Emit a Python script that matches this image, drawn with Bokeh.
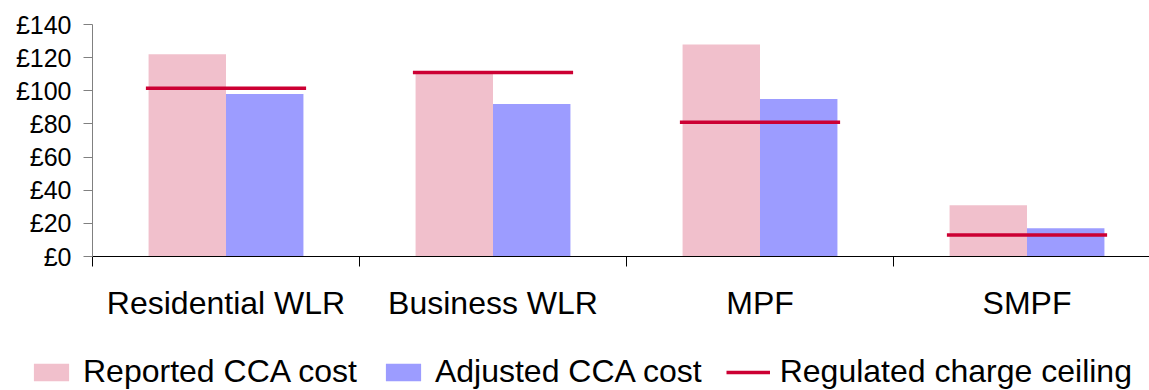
from bokeh.plotting import figure
from bokeh.layouts import column
from bokeh.models import (ColumnDataSource, FixedTicker, Range1d, Legend, LegendItem,
                          PrintfTickFormatter)
from bokeh.embed import file_html
from bokeh.resources import INLINE

categories = ["Residential WLR", "Business WLR", "MPF", "SMPF"]
reported = [122, 112, 128, 31]
adjusted = [98, 92, 95, 17]
ceiling = [101.5, 111, 81, 13]
y_ticks = [0, 20, 40, 60, 80, 100, 120, 140]
series_names = ["Reported CCA cost", "Adjusted CCA cost", "Regulated charge ceiling"]

PINK = "#F1C0CC"
BLUE = "#9C9CFF"
RED = "#CC0033"
FONT = "Liberation Sans"

centers = [i + 0.5 for i in range(len(categories))]
bar_w = 0.29
half_line = 0.3

src = ColumnDataSource(dict(
    cat=categories,
    xr=[c - bar_w / 2 for c in centers],
    xa=[c + bar_w / 2 for c in centers],
    x0=[c - half_line for c in centers],
    x1=[c + half_line for c in centers],
    reported=reported,
    adjusted=adjusted,
    ceiling=ceiling,
))

MAIN_H = 354
p = figure(width=1149, height=MAIN_H, output_backend="svg", toolbar_location=None,
           x_range=Range1d(0, 1057 / 267), y_range=Range1d(0, 140),
           min_border_left=92, min_border_right=0, min_border_top=24,
           min_border_bottom=MAIN_H - 256, outline_line_color=None)
p.xgrid.visible = False
p.ygrid.visible = False

p.vbar(x="xr", top="reported", width=bar_w, source=src, fill_color=PINK, line_color=None)
p.vbar(x="xa", top="adjusted", width=bar_w, source=src, fill_color=BLUE, line_color=None)
p.segment(x0="x0", x1="x1", y0="ceiling", y1="ceiling", source=src,
          line_color=RED, line_width=3.5)

# x axis
xa = p.xaxis[0]
xa.ticker = FixedTicker(ticks=centers, minor_ticks=list(range(len(categories))))
xa.major_label_overrides = {c: name for c, name in zip(centers, categories)}
xa.major_tick_line_color = None
xa.major_tick_out = 0
xa.major_tick_in = 0
xa.minor_tick_line_color = "black"
xa.minor_tick_out = 10
xa.minor_tick_in = 0
xa.axis_line_color = "black"
xa.major_label_standoff = 18
xa.major_label_text_font = FONT
xa.major_label_text_font_size = "32px"
xa.major_label_text_color = "black"

# y axis
ya = p.yaxis[0]
ya.ticker = FixedTicker(ticks=y_ticks, minor_ticks=[])
ya.formatter = PrintfTickFormatter(format="£%d")
ya.axis_line_color = "#808080"
ya.major_tick_line_color = "#808080"
ya.major_tick_out = 9
ya.major_tick_in = 0
ya.major_label_standoff = 12
ya.major_label_text_font = FONT
ya.major_label_text_font_size = "25px"
ya.major_label_text_color = "black"

# legend strip below the chart
LEG_H = 390 - MAIN_H
leg = figure(width=1149, height=LEG_H, output_backend="svg", toolbar_location=None,
             x_range=Range1d(0, 1), y_range=Range1d(0, 1),
             x_axis_location=None, y_axis_location=None,
             min_border=0, outline_line_color=None)
leg.xgrid.visible = False
leg.ygrid.visible = False
for fig in (p, leg):
    if "frame_align" in fig.properties():
        fig.frame_align = False

# key glyphs (no drawable data; only their legend swatches show)
nan = float("nan")
proxy = ColumnDataSource(dict(x=[nan], top=[nan], x0=[nan], x1=[nan], y=[nan]))
k1 = leg.vbar(x="x", top="top", width=0.1, source=proxy, fill_color=PINK, line_color=None)
k2 = leg.vbar(x="x", top="top", width=0.1, source=proxy, fill_color=BLUE, line_color=None)
k3 = leg.segment(x0="x0", x1="x1", y0="y", y1="y", source=proxy, line_color=RED, line_width=3.5)

legend = Legend(items=[LegendItem(label=n, renderers=[r])
                       for n, r in zip(series_names, [k1, k2, k3])],
                orientation="horizontal", location=(29, 0),
                glyph_width=44, glyph_height=22, label_standoff=10, spacing=24,
                padding=0, margin=0, border_line_color=None, background_fill_alpha=0,
                label_text_font=FONT, label_text_font_size="32px", label_text_color="black")
leg.add_layout(legend)

layout = column(p, leg, spacing=0)
open("out.html", "w").write(file_html(layout, INLINE))
